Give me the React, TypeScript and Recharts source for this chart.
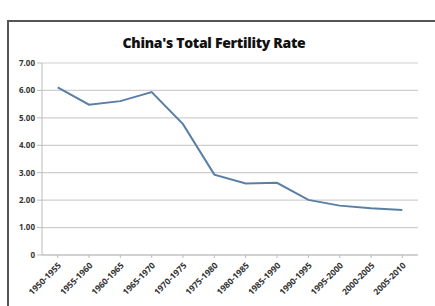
import { LineChart, Line, XAxis, YAxis, CartesianGrid } from 'recharts';

const periods = [
  '1950-1955', '1955-1960', '1960-1965', '1965-1970', '1970-1975', '1975-1980',
  '1980-1985', '1985-1990', '1990-1995', '1995-2000', '2000-2005', '2005-2010',
];
const fertility = [6.11, 5.48, 5.61, 5.94, 4.77, 2.93, 2.61, 2.63, 2.01, 1.8, 1.7, 1.64];
const yTicks = [0, 1, 2, 3, 4, 5, 6, 7];

const data = periods.map((p, i) => ({ period: p, tfr: fertility[i] }));

const font = '"Open Sans", "Liberation Sans", sans-serif';

function AngledTick({ x, y, payload }: any) {
  return (
    <g transform={`translate(${x + 2},${y + 4})`}>
      <text
        transform="rotate(-45)"
        textAnchor="end"
        dy={3}
        fontSize={8.5}
        fontWeight={700}
        fill="#333"
        fontFamily={font}
      >
        {payload.value}
      </text>
    </g>
  );
}

export default function App() {
  return (
    <div
      style={{
        position: 'absolute',
        left: 0,
        top: 0,
        width: 435,
        height: 306,
        overflow: 'hidden',
        background: '#fff',
        fontFamily: font,
      }}
    >
      <div
        style={{
          position: 'absolute',
          left: 7,
          top: 20,
          width: 450,
          height: 300,
          borderTop: '2px solid #555',
          borderLeft: '2px solid #555',
        }}
      />
      <div
        style={{
          position: 'absolute',
          left: 0,
          width: 428,
          top: 33,
          textAlign: 'center',
          fontSize: 14,
          fontWeight: 800,
          color: '#111',
          letterSpacing: -0.3,
        }}
      >
        China's Total Fertility Rate
      </div>
      <div style={{ position: 'absolute', left: 0, top: 0 }}>
        <LineChart
          width={435}
          height={306}
          data={data}
          margin={{ top: 63, right: 17, left: 4, bottom: 0 }}
        >
          <CartesianGrid vertical={false} stroke="#cfcfcf" strokeWidth={1.2} />
          <XAxis
            dataKey="period"
            scale="band"
            interval={0}
            height={51}
            tick={<AngledTick />}
            stroke="#bbb"
            tickSize={3}
          />
          <YAxis
            domain={[0, 7]}
            ticks={yTicks}
            width={38}
            stroke="#bbb"
            tickSize={5}
            tickFormatter={(v: number) => (v === 0 ? '0' : v.toFixed(2))}
            tick={{ fontSize: 8, fontWeight: 700, fill: '#333', fontFamily: font }}
          />
          <Line
            type="linear"
            dataKey="tfr"
            stroke="#5a7fa6"
            strokeWidth={2}
            dot={false}
            isAnimationActive={false}
          />
        </LineChart>
      </div>
    </div>
  );
}
